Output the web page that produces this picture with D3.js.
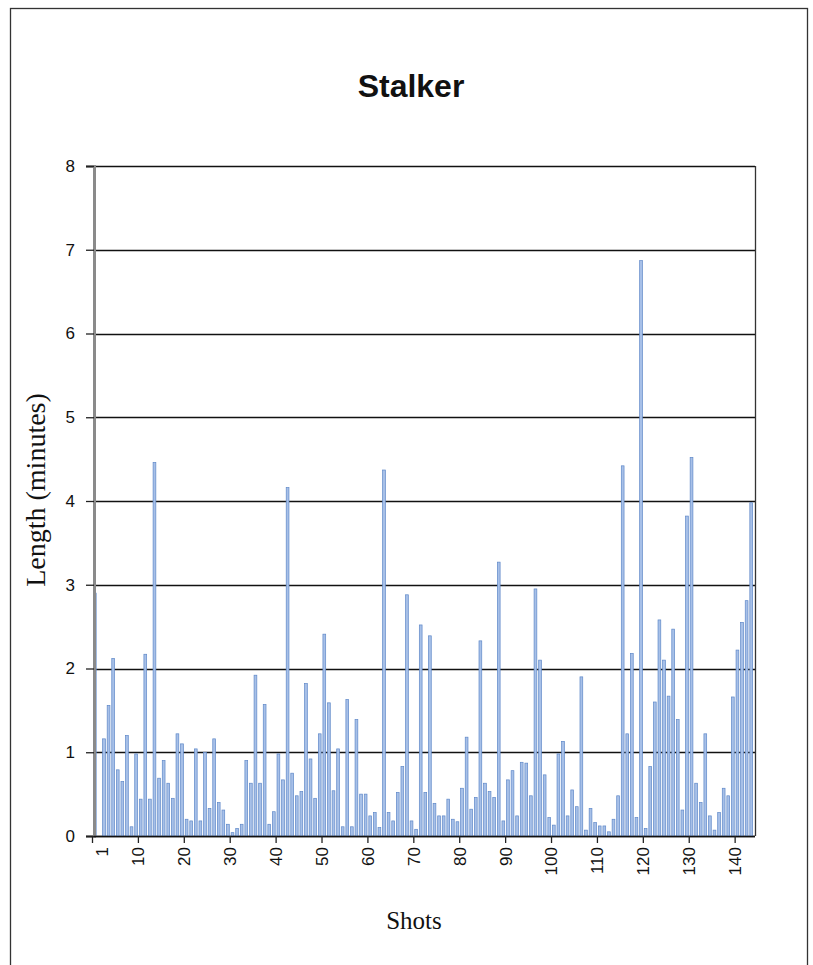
<!DOCTYPE html>
<html>
<head>
<meta charset="utf-8">
<script src="https://cdn.jsdelivr.net/npm/d3@7/dist/d3.min.js"></script>
<style>
  html, body { margin: 0; padding: 0; background: #fff; }
  svg { display: block; }
</style>
</head>
<body>
<svg id="chart" width="813" height="965"></svg>
<script>
const title = "Stalker";
const xTitle = "Shots";
const yTitle = "Length (minutes)";
const shots = d3.range(1, 145);
const lengths = [
  2.9, 0, 1.16, 1.56, 2.12, 0.79, 0.65, 1.2, 0.11, 0.98,
  0.44, 2.17, 0.44, 4.46, 0.69, 0.9, 0.63, 0.45, 1.22, 1.1,
  0.2, 0.18, 1.04, 0.18, 1.0, 0.33, 1.16, 0.4, 0.31, 0.14,
  0.04, 0.09, 0.14, 0.9, 0.63, 1.92, 0.63, 1.57, 0.14, 0.29,
  0.98, 0.67, 4.16, 0.75, 0.48, 0.53, 1.82, 0.92, 0.45, 1.22,
  2.41, 1.59, 0.54, 1.04, 0.11, 1.63, 0.11, 1.39, 0.5, 0.5,
  0.24, 0.28, 0.1, 4.37, 0.28, 0.18, 0.52, 0.83, 2.88, 0.18,
  0.08, 2.52, 0.52, 2.39, 0.39, 0.24, 0.24, 0.44, 0.2, 0.17,
  0.57, 1.18, 0.32, 0.46, 2.33, 0.63, 0.53, 0.46, 3.27, 0.18,
  0.67, 0.78, 0.24, 0.88, 0.87, 0.48, 2.95, 2.1, 0.73, 0.22,
  0.13, 0.98, 1.13, 0.24, 0.55, 0.35, 1.9, 0.07, 0.33, 0.16,
  0.12, 0.12, 0.05, 0.2, 0.48, 4.42, 1.22, 2.18, 0.22, 6.87,
  0.09, 0.83, 1.6, 2.58, 2.1, 1.67, 2.47, 1.39, 0.31, 3.82,
  4.52, 0.63, 0.4, 1.22, 0.24, 0.07, 0.28, 0.57, 0.48, 1.66,
  2.22, 2.55, 2.81, 3.98
];
const xTickBoundaries = [0, 10, 20, 30, 40, 50, 60, 70, 80, 90, 100, 110, 120, 130, 140];
const xTickLabels = ["1", "10", "20", "30", "40", "50", "60", "70", "80", "90", "100", "110", "120", "130", "140"];
const yTicks = [0, 1, 2, 3, 4, 5, 6, 7, 8];

const svg = d3.select("#chart");

// outer chart border
svg.append("rect")
  .attr("x", 10.5).attr("y", 8.5)
  .attr("width", 797).attr("height", 980)
  .attr("fill", "#fff").attr("stroke", "#333").attr("stroke-width", 1.3);

const plot = { left: 94, right: 755, top: 166, bottom: 836 };

const x = d3.scaleBand()
  .domain(shots)
  .range([92.5, 753.5])
  .paddingInner(0.4)
  .paddingOuter(0.2);

const y = d3.scaleLinear()
  .domain([0, 8])
  .range([plot.bottom, plot.top]);

// gridlines
svg.append("g")
  .selectAll("line")
  .data(yTicks)
  .join("line")
  .attr("x1", plot.left).attr("x2", plot.right)
  .attr("y1", d => Math.round(y(d)) + 0.5).attr("y2", d => Math.round(y(d)) + 0.5)
  .attr("stroke", "#111").attr("stroke-width", 1.5);

// right frame line
svg.append("line")
  .attr("x1", plot.right + 0.5).attr("x2", plot.right + 0.5)
  .attr("y1", plot.top).attr("y2", plot.bottom)
  .attr("stroke", "#333").attr("stroke-width", 1.3);

// bars
svg.append("g")
  .selectAll("rect")
  .data(shots.map((s, i) => ({ shot: s, v: lengths[i] })))
  .join("rect")
  .attr("x", d => x(d.shot))
  .attr("y", d => y(d.v))
  .attr("width", x.bandwidth())
  .attr("height", d => y(0) - y(d.v))
  .attr("fill", "#a7c0e8")
  .attr("stroke", "#5f88c8")
  .attr("stroke-width", 0.7);

// y axis
const yAxis = d3.axisLeft(y).tickValues(yTicks).tickSize(8).tickPadding(11).tickFormat(d3.format("d"));
const gy = svg.append("g")
  .attr("transform", `translate(${plot.left},0)`)
  .call(yAxis);
gy.select(".domain").attr("stroke", "#8a8a8a").attr("stroke-width", 3);
gy.selectAll(".tick line").attr("stroke", "#222").attr("stroke-width", 1.3);
gy.selectAll(".tick text")
  .attr("font-family", "Liberation Sans, Arial, sans-serif")
  .attr("font-size", 17).attr("fill", "#111");

// x axis baseline
svg.append("line")
  .attr("x1", plot.left).attr("x2", plot.right)
  .attr("y1", plot.bottom + 0.5).attr("y2", plot.bottom + 0.5)
  .attr("stroke", "#111").attr("stroke-width", 1.5);

// x ticks at category boundaries
const boundary = b => x.range()[0] + b * x.step();
const gx = svg.append("g");
gx.selectAll("line")
  .data(xTickBoundaries)
  .join("line")
  .attr("x1", d => boundary(d)).attr("x2", d => boundary(d))
  .attr("y1", plot.bottom).attr("y2", plot.bottom + 7)
  .attr("stroke", "#222").attr("stroke-width", 1.3);
gx.selectAll("text")
  .data(xTickBoundaries)
  .join("text")
  .attr("transform", (d, i) => {
    const px = boundary(d) + (i === 0 ? 10 : 0);
    return `translate(${px},${plot.bottom + 11}) rotate(-90)`;
  })
  .attr("text-anchor", "end")
  .attr("dy", "0.35em")
  .attr("font-family", "Liberation Sans, Arial, sans-serif")
  .attr("font-size", 17).attr("fill", "#111")
  .text((d, i) => xTickLabels[i]);

// title
svg.append("text")
  .attr("x", 411).attr("y", 97)
  .attr("text-anchor", "middle")
  .attr("font-family", "Liberation Sans, Arial, sans-serif")
  .attr("font-weight", "bold")
  .attr("font-size", 32)
  .attr("fill", "#111")
  .text(title);

// axis titles
svg.append("text")
  .attr("transform", "translate(45,490) rotate(-90)")
  .attr("text-anchor", "middle")
  .attr("font-family", "Liberation Serif, Times New Roman, serif")
  .attr("font-size", 28)
  .attr("fill", "#111")
  .text(yTitle);

svg.append("text")
  .attr("x", 414).attr("y", 929)
  .attr("text-anchor", "middle")
  .attr("font-family", "Liberation Serif, Times New Roman, serif")
  .attr("font-size", 25)
  .attr("fill", "#111")
  .text(xTitle);
</script>
</body>
</html>
